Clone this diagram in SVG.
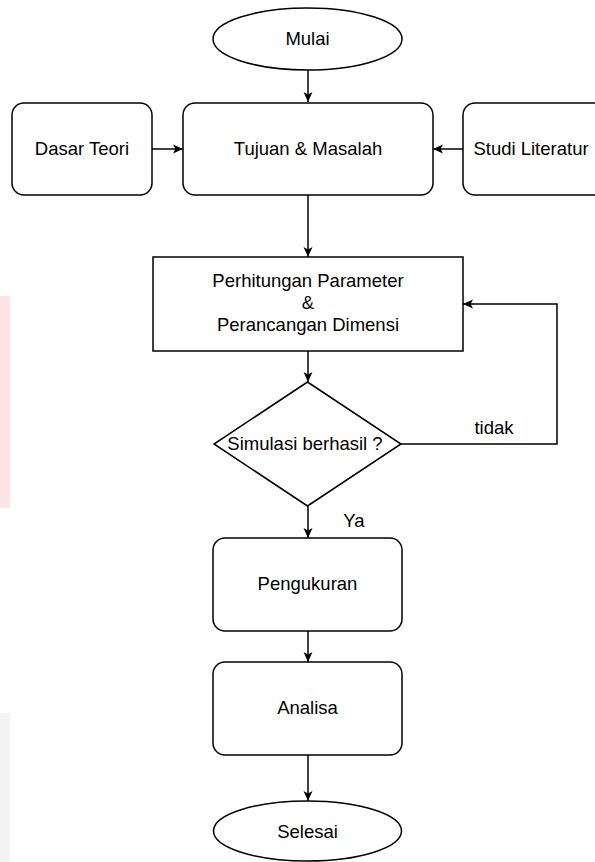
<svg xmlns="http://www.w3.org/2000/svg" width="595" height="862" viewBox="0 0 595 862">
<style>
.shape{fill:#fff;stroke:#000;stroke-width:1.5}
.lbl{font-family:"Liberation Sans",Arial,sans-serif;font-size:18.5px;fill:#000;text-anchor:middle}
.edge{fill:none;stroke:#000;stroke-width:1.5}
</style>
<defs>
<marker id="arr" markerUnits="userSpaceOnUse" markerWidth="12" markerHeight="12" viewBox="0 0 12 12" refX="11" refY="6" orient="auto">
<path d="M1,1.5 L11,6 L1,10.5 L3.5,6 z" fill="#000"/>
</marker>
</defs>
<rect x="0" y="0" width="595" height="862" fill="#fff"/>
<rect x="0" y="296" width="10" height="212" fill="#fde4e7"/>
<rect x="0" y="713" width="10" height="149" fill="#f4f4f4"/>
<g id="connectors">
<line class="edge" x1="308" y1="70" x2="308" y2="102" marker-end="url(#arr)"/>
<line class="edge" x1="152" y1="149" x2="183" y2="149" marker-end="url(#arr)"/>
<line class="edge" x1="463" y1="149" x2="433" y2="149" marker-end="url(#arr)"/>
<line class="edge" x1="308" y1="195" x2="308" y2="257" marker-end="url(#arr)"/>
<line class="edge" x1="308" y1="351" x2="308" y2="382" marker-end="url(#arr)"/>
<polyline class="edge" points="401,444 557,444 557,304 463,304" marker-end="url(#arr)"/>
<line class="edge" x1="308" y1="506" x2="308" y2="538" marker-end="url(#arr)"/>
<line class="edge" x1="308" y1="631" x2="308" y2="662" marker-end="url(#arr)"/>
<line class="edge" x1="308" y1="755" x2="308" y2="801" marker-end="url(#arr)"/>
<text class="lbl" x="494" y="434">tidak</text>
<text class="lbl" x="354" y="527">Ya</text>
</g>
<g id="mulai">
<ellipse class="shape" cx="307.5" cy="39" rx="94.5" ry="31"/>
<text class="lbl" x="307.5" y="45">Mulai</text>
</g>
<g id="dasar-teori">
<rect class="shape" x="12" y="103" width="140" height="92" rx="12"/>
<text class="lbl" x="82" y="155">Dasar Teori</text>
</g>
<g id="tujuan-masalah">
<rect class="shape" x="183" y="103" width="250" height="92" rx="12"/>
<text class="lbl" x="308" y="155">Tujuan &amp; Masalah</text>
</g>
<g id="studi-literatur">
<rect class="shape" x="463" y="103" width="145" height="92" rx="12"/>
<text class="lbl" x="531" y="155">Studi Literatur</text>
</g>
<g id="perhitungan">
<rect class="shape" x="153" y="257" width="310" height="94"/>
<text class="lbl" x="308" y="287">Perhitungan Parameter</text>
<text class="lbl" x="308" y="309">&amp;</text>
<text class="lbl" x="308" y="331">Perancangan Dimensi</text>
</g>
<g id="simulasi">
<polygon class="shape" points="307.5,382 401,444 307.5,506 214,444"/>
<text class="lbl" x="305" y="450">Simulasi berhasil ?</text>
</g>
<g id="pengukuran">
<rect class="shape" x="213" y="538" width="189" height="93" rx="12"/>
<text class="lbl" x="307.5" y="590">Pengukuran</text>
</g>
<g id="analisa">
<rect class="shape" x="213" y="662" width="189" height="93" rx="12"/>
<text class="lbl" x="307.5" y="714">Analisa</text>
</g>
<g id="selesai">
<ellipse class="shape" cx="307.5" cy="831" rx="94" ry="30"/>
<text class="lbl" x="307.5" y="838">Selesai</text>
</g>
</svg>
